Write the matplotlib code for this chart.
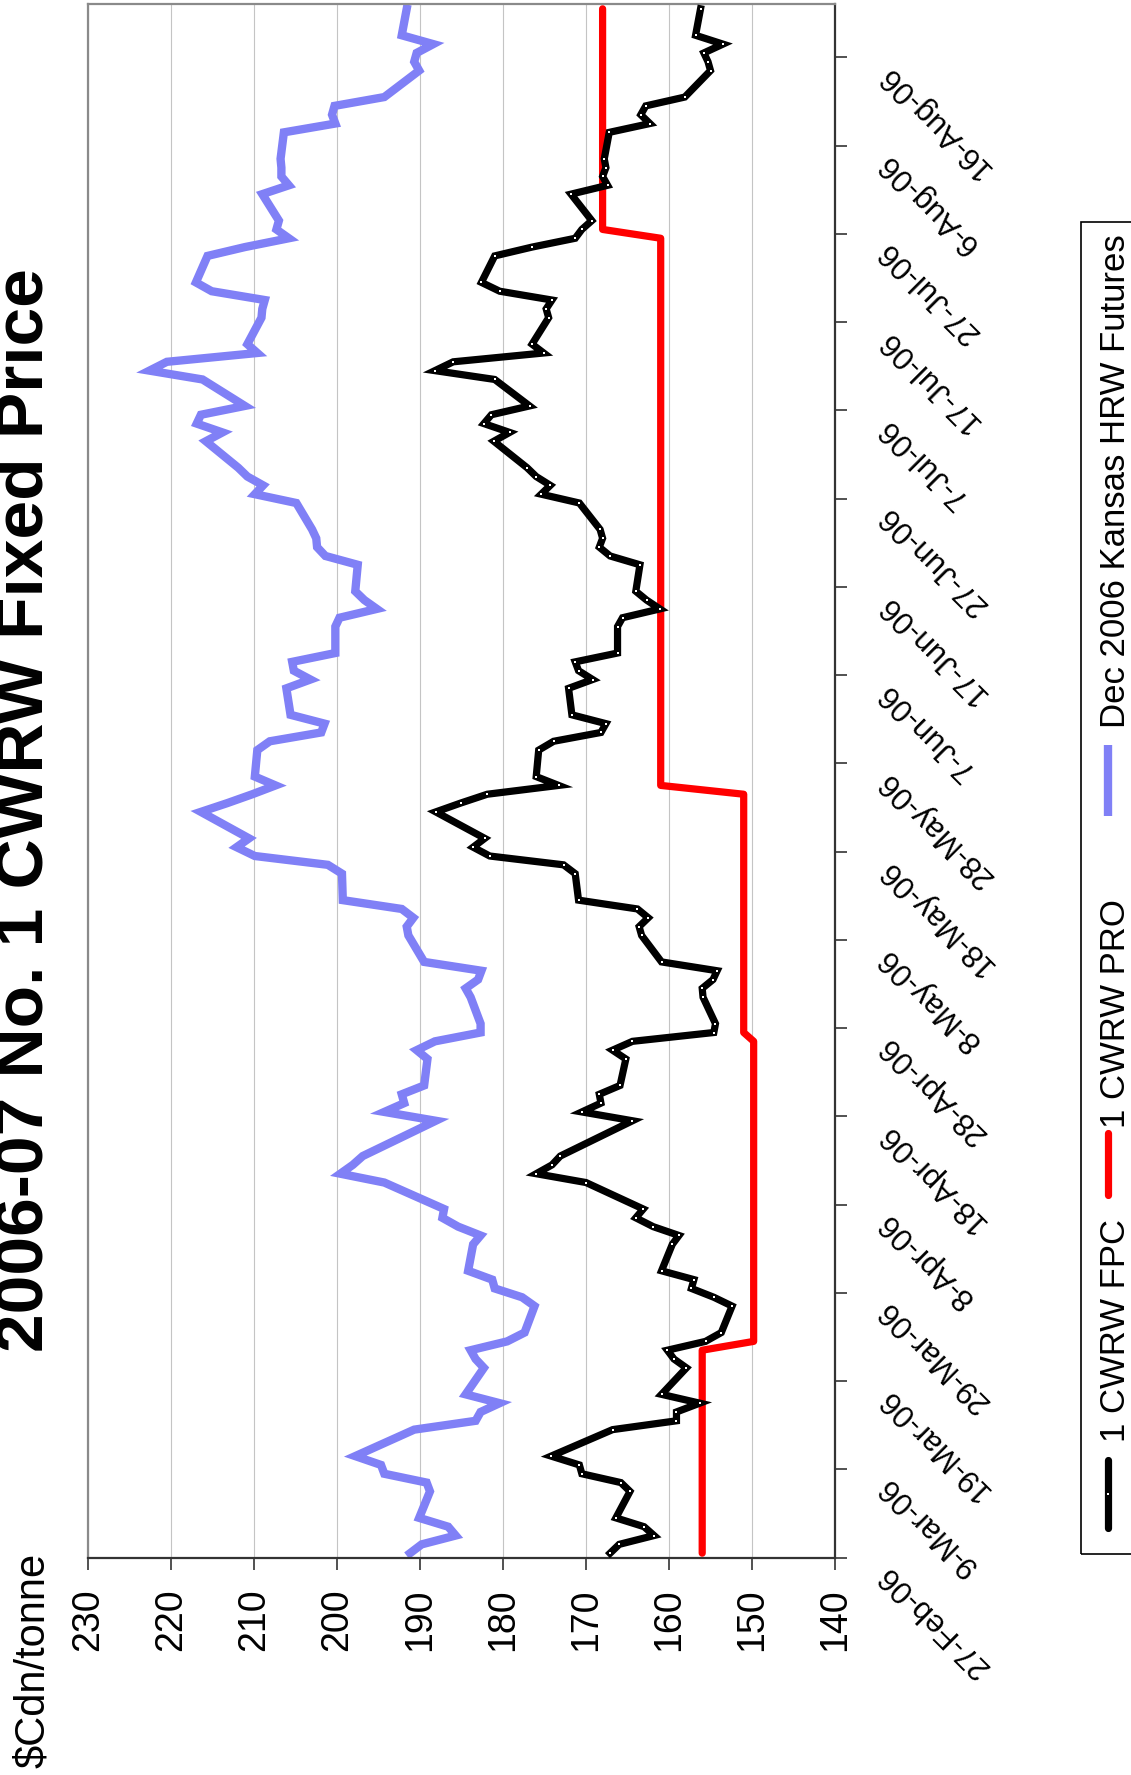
import numpy as np
import pandas as pd
import matplotlib
matplotlib.use("Agg")
import matplotlib.pyplot as plt
import matplotlib.dates as mdates
import matplotlib.transforms as mtransforms
from matplotlib.lines import Line2D
from matplotlib.patches import Rectangle

plt.rcParams['font.family'] = ['Liberation Sans', 'DejaVu Sans']

# ---------------- data ----------------
title = "2006-07 No. 1 CWRW Fixed Price"
y_label = "$Cdn/tonne"
series_names = ["1 CWRW FPC", "1 CWRW PRO", "Dec 2006 Kansas HRW Futures"]

# trading days (business days, Good Friday closed)
dates = pd.bdate_range("2006-02-27", "2006-08-21").drop(pd.Timestamp("2006-04-14"))

fpc = [167.1, 166.0, 161.8, 163.0, 166.4,
       164.7, 165.8, 170.5, 170.8, 174.2,
       166.8, 159.1, 159.1, 156.3, 160.9,
       157.9, 159.4, 160.2, 155.6, 153.7,
       152.4, 154.6, 157.3, 157.0, 160.9,
       159.6, 158.8, 161.9, 164.0, 163.1,
       170.0, 176.0, 174.1, 173.1,
       164.4, 170.5, 168.2, 168.4, 165.9,
       165.2, 166.8, 164.4, 154.6, 154.4,
       155.9, 156.0, 154.7, 154.2, 160.9,
       163.3, 163.6, 162.5, 163.8, 170.9,
       171.3, 172.7, 181.6, 183.6, 182.2,
       188.1, 185.1, 181.9, 173.3, 176.0,
       175.7, 173.9, 168.2, 167.6, 171.7,
       172.1, 169.2, 170.9, 171.3, 166.2,
       166.2, 165.6, 161.1, 162.7, 164.0,
       163.5, 167.1, 168.4, 168.0, 168.3,
       170.8, 175.4, 174.3, 176.0, 177.1,
       181.1, 179.2, 182.3, 181.4, 176.8,
       181.0, 188.2, 186.0, 175.1, 176.5,
       174.5, 174.8, 174.1, 180.4, 182.6,
       181.0, 176.5, 171.3, 170.5, 169.3,
       171.8, 167.4, 168.0, 167.6, 167.8,
       167.2, 162.3, 163.4, 162.8, 158.1,
       155.0, 155.3, 155.8, 153.5, 156.8,
       156.2]

pro = ([156.0] * 18 + [149.8] * 24 + [151.0] * 20 + [161.0] * 45 + [168.0] * 18)

futures = [191.2, 189.8, 185.7, 186.6, 190.1,
           188.8, 189.2, 194.3, 194.7, 197.8,
           190.7, 183.3, 182.7, 180.4, 184.5,
           182.3, 183.3, 183.9, 179.5, 177.4,
           176.2, 177.7, 181.0, 181.3, 184.2,
           183.6, 182.7, 185.4, 187.3, 187.1,
           194.3, 199.6, 198.1, 196.9,
           188.1, 194.3, 191.9, 192.2, 189.5,
           189.1, 190.4, 188.2, 182.7, 182.7,
           183.9, 184.5, 183.0, 182.6, 189.5,
           191.4, 191.6, 190.8, 192.2, 199.3,
           199.4, 201.1, 209.9, 212.1, 210.6,
           216.4, 213.2, 210.2, 207.4, 209.9,
           209.6, 208.1, 201.9, 201.5, 205.6,
           206.1, 203.2, 205.2, 205.4, 200.2,
           200.2, 199.7, 195.2, 196.7, 197.8,
           197.5, 201.4, 202.4, 202.5, 203.0,
           204.9, 209.9, 208.9, 210.8, 211.9,
           215.8, 213.8, 216.9, 216.4, 211.1,
           216.2, 222.6, 220.5, 209.6, 210.8,
           209.1, 209.0, 208.7, 215.1, 217.0,
           215.6, 211.1, 205.8, 207.3, 207.0,
           209.0, 205.8, 206.7, 206.7, 206.8,
           206.4, 200.2, 200.6, 200.3, 194.3,
           190.1, 190.7, 190.4, 188.4, 192.2,
           191.6]

price_ticks = [230, 220, 210, 200, 190, 180, 170, 160, 150, 140]
date_ticks = pd.date_range("2006-02-27", periods=18, freq="10D")
date_start, date_end = pd.Timestamp("2006-02-27"), pd.Timestamp("2006-08-22")

# ---------------- figure ----------------
W, H = 1131, 1775
fig = plt.figure(figsize=(W / 100, H / 100), dpi=100)
ax_left, ax_right, ax_top, ax_bot = 88, 835, 4.4, 1557.6
ax = fig.add_axes([ax_left / W, 1 - ax_bot / H, (ax_right - ax_left) / W, (ax_bot - ax_top) / H])

ypos = mdates.date2num(dates) + 0.5   # points sit in the middle of the day

c_blue = "#8080f6"
ax.plot(futures, ypos, color=c_blue, lw=6.0, solid_joinstyle="miter", zorder=2)
ax.plot(pro, ypos, color="#ff0000", lw=5.2, solid_capstyle="round",
        solid_joinstyle="round", zorder=3)
ax.plot(fpc, ypos, color="black", lw=5.2, solid_joinstyle="miter", zorder=4,
        marker="s", markersize=1.8, markerfacecolor="white", markeredgewidth=0)

ax.set_xlim(230, 140)
ax.set_ylim(mdates.date2num(date_start), mdates.date2num(date_end))

ax.set_xticks(price_ticks)
ax.set_xticklabels([str(v) for v in price_ticks])
ax.tick_params(axis="x", direction="out", length=8.5, width=1.2, color="#333333",
               labelrotation=90, labelsize=27, pad=14, top=False, bottom=True)
ax.xaxis.grid(True, color="#c4c4c4", lw=0.8)
ax.set_axisbelow(True)

ax.yaxis.tick_right()
ax.set_yticks(mdates.date2num(date_ticks))
ax.tick_params(axis="y", direction="out", length=8.5, width=1.2, color="#333333",
               labelright=False, labelleft=False, left=False, right=True)

for s in ["left", "top"]:
    ax.spines[s].set_color("#8a8a8a")
    ax.spines[s].set_linewidth(1.6)
for s in ["bottom", "right"]:
    ax.spines[s].set_color("#333333")
    ax.spines[s].set_linewidth(1.6)

# date labels (rotated)
trans = mtransforms.blended_transform_factory(ax.transAxes, ax.transData) + \
    mtransforms.ScaledTranslation(48 / 100, -12 / 100, fig.dpi_scale_trans)
for t in date_ticks:
    lab = f"{t.day}-{t.strftime('%b-%y')}"
    ax.text(1.0, mdates.date2num(t), lab, transform=trans, rotation=135,
            rotation_mode="anchor", ha="right", va="center", fontsize=22.5,
            clip_on=False)

# title and axis label
fig.text(43 / W, 1 - 810 / H, title, rotation=90, rotation_mode="anchor",
         ha="center", va="baseline", fontsize=50, fontweight="bold")
fig.text(44 / W, 1 - 1660 / H, y_label, rotation=90, rotation_mode="anchor",
         ha="center", va="baseline", fontsize=30)

# legend (drawn manually, rotated)
lg_top, lg_bot = 222, 1554
fig.add_artist(Rectangle((1081 / W, 1 - lg_bot / H), 80 / W, (lg_bot - lg_top) / H,
                         transform=fig.transFigure, fill=False, ec="black", lw=1.2))
lx = 1108
samples = [(1528, 1460, "black", 5.2), (1195, 1133, "#ff0000", 5.2), (816, 745, c_blue, 6.0)]
text_centers = [1330, 1014, 481]
for (yb, yt, col, lw), name, yc in zip(samples, series_names, text_centers):
    ln = Line2D([lx / W, lx / W], [1 - yb / H, 1 - yt / H], transform=fig.transFigure,
                color=col, lw=lw, solid_capstyle="round" if col != c_blue else "butt")
    fig.add_artist(ln)
    fig.text(1125 / W, 1 - yc / H, name, rotation=90, rotation_mode="anchor",
             ha="center", va="baseline", fontsize=25)
fig.add_artist(Line2D([lx / W], [1 - (1528 + 1460) / 2 / H], transform=fig.transFigure,
                      marker="s", markersize=1.8, markerfacecolor="white",
                      markeredgewidth=0, linestyle="none"))

fig.savefig("out.png", dpi=100)
